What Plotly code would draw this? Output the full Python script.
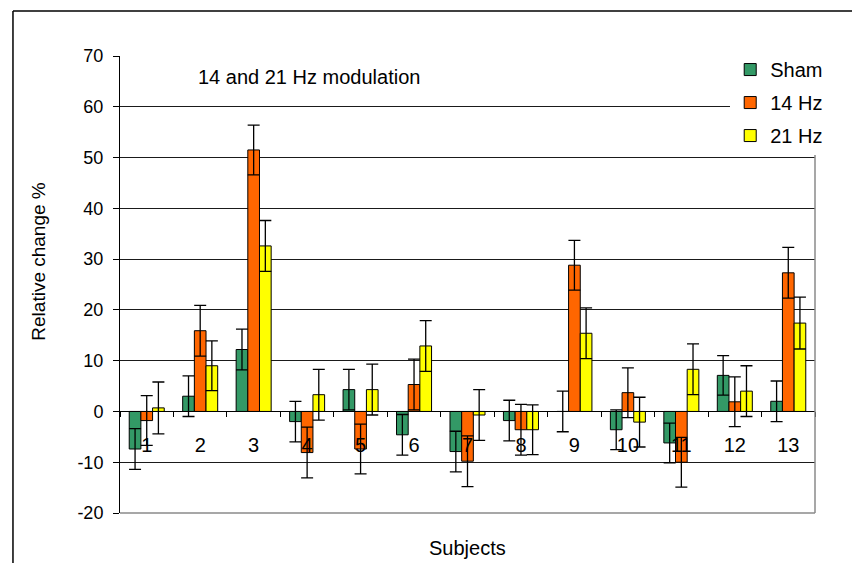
import plotly.graph_objects as go

# Subjects on the x axis
subjects = [str(i) for i in range(1, 14)]

# Relative change (%) per condition
sham = [-7.4, 3.0, 12.2, -2.0, 4.3, -4.6, -7.9, -1.8, 0.0, -3.6, -6.2, 7.1, 2.0]
hz14 = [-1.8, 15.9, 51.5, -8.1, -7.4, 5.3, -9.8, -3.6, 28.8, 3.7, -10.0, 1.9, 27.3]
hz21 = [0.7, 9.0, 32.6, 3.3, 4.3, 12.9, -0.7, -3.6, 15.4, -2.1, 8.3, 4.0, 17.4]

# Error bar half-lengths
sham_err = [4.0, 4.0, 4.0, 4.0, 4.0, 4.0, 4.0, 4.0, 4.0, 3.9, 3.9, 3.9, 4.0]
hz14_err = [4.9, 5.0, 4.9, 5.0, 4.9, 5.0, 5.0, 5.0, 4.9, 4.9, 4.9, 4.9, 5.0]
hz21_err = [5.1, 4.9, 5.0, 5.0, 5.0, 5.0, 5.0, 4.9, 5.0, 4.9, 5.0, 5.0, 5.1]

# Y axis ticks (plain hyphen for negatives)
y_ticks = [-20, -10, 0, 10, 20, 30, 40, 50, 60, 70]
y_tick_text = ["-20", "-10", "0", "10", "20", "30", "40", "50", "60", "70"]

series = [
    ("Sham", sham, sham_err, "#339966"),
    ("14 Hz", hz14, hz14_err, "#FF6600"),
    ("21 Hz", hz21, hz21_err, "#FFFF00"),
]

FONT = "Arial, Liberation Sans, sans-serif"
Y_MIN, Y_MAX = -20, 70

fig = go.Figure()
for name, vals, errs, color in series:
    fig.add_trace(go.Bar(
        x=subjects, y=vals, name=name, legendgroup=name,
        marker=dict(color=color, line=dict(color="#000000", width=1)),
        error_y=dict(type="data", array=errs, visible=True,
                     color="#000000", thickness=1.3, width=6),
    ))

fig.update_layout(
    width=852, height=563,
    margin=dict(l=120, r=37, t=56, b=50),
    paper_bgcolor="white", plot_bgcolor="white",
    barmode="group", bargap=0.345, bargroupgap=0,
    font=dict(family=FONT, color="#000000"),
    showlegend=True,
    legend=dict(
        x=0.878, y=1.013, xanchor="left", yanchor="top",
        bgcolor="white", borderwidth=0,
        font=dict(size=20, family=FONT),
        traceorder="grouped", tracegroupgap=4,
    ),
    xaxis=dict(
        type="category", anchor="free",
        position=(0 - Y_MIN) / (Y_MAX - Y_MIN), side="bottom",
        showline=True, linecolor="#000000", linewidth=1,
        ticks="outside", tickson="boundaries", ticklen=5, tickcolor="#000000",
        showgrid=False, zeroline=False,
        tickfont=dict(size=20, family=FONT),
        ticklabelstandoff=16,
    ),
    yaxis=dict(
        range=[Y_MIN, Y_MAX], tickmode="array",
        tickvals=y_ticks, ticktext=y_tick_text,
        showgrid=True, gridcolor="#1a1a1a", gridwidth=1,
        zeroline=False,
        showline=True, linecolor="#000000", linewidth=1,
        ticks="outside", ticklen=6, tickcolor="#000000",
        tickfont=dict(size=18, family=FONT),
        ticklabelstandoff=6,
    ),
)

# Right and bottom borders of the plotting area
fig.add_shape(type="line", xref="paper", yref="paper", x0=1, x1=1, y0=0, y1=1,
              line=dict(color="#8a8a8a", width=1.5), layer="above")
fig.add_shape(type="line", xref="paper", yref="paper", x0=0, x1=1, y0=0, y1=0,
              line=dict(color="#8a8a8a", width=1.5), layer="above")

# Outer chart frame (left and top edges)
fig.add_shape(type="line", xref="paper", yref="paper",
              x0=-0.154, x1=-0.154, y0=-0.2, y1=1.0985,
              line=dict(color="#000000", width=1.5), layer="above")
fig.add_shape(type="line", xref="paper", yref="paper",
              x0=-0.154, x1=1.1, y0=1.0985, y1=1.0985,
              line=dict(color="#000000", width=1.5), layer="above")

fig.add_annotation(text="14 and 21 Hz modulation", xref="paper", yref="paper",
                   x=0.1094, y=0.954, xanchor="left", yanchor="middle",
                   showarrow=False, font=dict(size=20, family=FONT))
fig.add_annotation(text="Relative change %", xref="paper", yref="paper",
                   x=-0.1165, y=0.55, xanchor="center", yanchor="middle",
                   textangle=-90, showarrow=False, font=dict(size=19, family=FONT))
fig.add_annotation(text="Subjects", xref="paper", yref="paper",
                   x=0.5, y=-0.0766, xanchor="center", yanchor="middle",
                   showarrow=False, font=dict(size=20, family=FONT))

fig.write_html("out.html")
